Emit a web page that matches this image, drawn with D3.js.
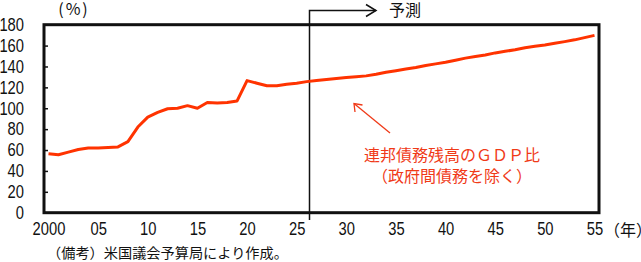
<!DOCTYPE html>
<html>
<head>
<meta charset="utf-8">
<script src="https://cdn.jsdelivr.net/npm/d3@7/dist/d3.min.js"></script>
<style>
  body { margin: 0; background: #fff; }
  svg { display: block; }
  .num { font-family: "Liberation Sans", Arial, sans-serif; font-size: 18px; fill: #111; }
  .jp { font-family: "Noto Sans CJK JP", sans-serif; fill: #111; }
</style>
</head>
<body>
<div id="chart"></div>
<script>
// years and debt/GDP ratio (%)
var years = d3.range(2000, 2056);
var debtRatio = [
  56.5, 55.5, 58, 60.5, 62, 62, 62.5, 63, 68, 82,
  91.5, 96, 99.5, 100, 102.5, 100, 105.5, 105, 105.5, 107,
  126.5, 124, 121.5, 121.5, 123, 124, 125.5, 126.5, 127.5, 128.5,
  129.5, 130.2, 131, 132.5, 134.5, 136, 137.5, 139, 141, 142.5,
  144, 146, 148, 149.5, 151, 153, 154.5, 156, 158, 159.3,
  160.5, 162.2, 163.8, 165.5, 167.6, 169.8
];
var yTicks = d3.range(0, 181, 20);
var xTicks = d3.range(2000, 2056, 5);
var forecastStart = 2026.2;

var w = 641, h = 262,
    squeeze = 0.82;   // narrow digits like the original

var svg = d3.select("#chart").append("svg")
    .attr("width", w)
    .attr("height", h);

var x = d3.scaleLinear().domain([2000, 2055]).range([48.5, 594.5]);
var y = d3.scaleLinear().domain([0, 180]).range([212.7, 24.7]);

// y axis (ticks point inward)
var ya = svg.append("g")
    .attr("transform", "translate(44,0)")
    .call(d3.axisLeft(y).tickValues(yTicks).tickSizeInner(-4).tickSizeOuter(0).tickPadding(20 / squeeze));
ya.select(".domain").remove();
ya.selectAll(".tick line").attr("stroke", "#111").attr("stroke-width", 1.5);
ya.selectAll(".tick text")
    .attr("class", "num").attr("font-family", null).attr("font-size", null)
    .attr("transform", "scale(" + squeeze + ",1)");

// x axis, labels only
var xa = svg.append("g")
    .attr("transform", "translate(0," + y(0) + ")")
    .call(d3.axisBottom(x).tickValues(xTicks).tickSize(0).tickPadding(10)
      .tickFormat(function(d) { return d == 2000 ? "2000" : d3.format("02d")(d % 100); }));
xa.select(".domain").remove();
xa.selectAll(".tick text")
    .attr("class", "num").attr("font-family", null).attr("font-size", null)
    .attr("transform", "scale(" + squeeze + ",1)");

// frame
svg.append("rect")
    .attr("x", 44)
    .attr("y", y(180))
    .attr("width", 599 - 44)
    .attr("height", y(0) - y(180))
    .attr("fill", "none")
    .attr("stroke", "#111")
    .attr("stroke-width", 3);

// forecast marker
var fx = Math.round(x(forecastStart)) + 0.5;
svg.append("path")
    .attr("d", "M" + fx + ",220V10.5H376")
    .attr("fill", "none")
    .attr("stroke", "#111")
    .attr("stroke-width", 1.5);
svg.append("path")
    .attr("d", "M366,4.5L376,10.5L366,16.5")
    .attr("fill", "none")
    .attr("stroke", "#111")
    .attr("stroke-width", 1.5);
svg.append("text")
    .attr("class", "jp")
    .attr("x", 389)
    .attr("y", 16)
    .attr("font-size", 16)
    .text("予測");

// debt line
var line = d3.line()
    .x(function(d, i) { return x(years[i]); })
    .y(function(d) { return y(d); });

svg.append("path")
    .datum(debtRatio)
    .attr("d", line)
    .attr("fill", "none")
    .attr("stroke", "#ff3300")
    .attr("stroke-width", 3)
    .attr("stroke-linejoin", "round");

// annotation
svg.append("path")
    .attr("d", "M390,133L354,103.5")
    .attr("stroke", "#f03a18")
    .attr("stroke-width", 1.3)
    .attr("fill", "none");
svg.append("path")
    .attr("d", "M355,112L354,103.5L362.5,105")
    .attr("stroke", "#f03a18")
    .attr("stroke-width", 1.3)
    .attr("fill", "none");
svg.append("text")
    .attr("class", "jp")
    .attr("x", 452)
    .attr("y", 161)
    .attr("text-anchor", "middle")
    .attr("font-size", 16)
    .style("fill", "#f03a18")
    .text("連邦債務残高のＧＤＰ比");
svg.append("text")
    .attr("class", "jp")
    .attr("x", 452)
    .attr("y", 182)
    .attr("text-anchor", "middle")
    .attr("font-size", 16)
    .style("fill", "#f03a18")
    .text("（政府間債務を除く）");

// units and note
svg.append("text")
    .attr("class", "jp")
    .attr("x", 74)
    .attr("y", 15)
    .attr("text-anchor", "middle")
    .attr("font-size", 16)
    .attr("letter-spacing", 2)
    .text("(%)");
svg.append("text")
    .attr("class", "jp")
    .attr("x", 604)
    .attr("y", 236)
    .attr("font-size", 16)
    .text("（年）");
svg.append("text")
    .attr("class", "jp")
    .attr("x", 47)
    .attr("y", 258)
    .attr("font-size", 14.2)
    .text("（備考）米国議会予算局により作成。");
</script>
</body>
</html>
